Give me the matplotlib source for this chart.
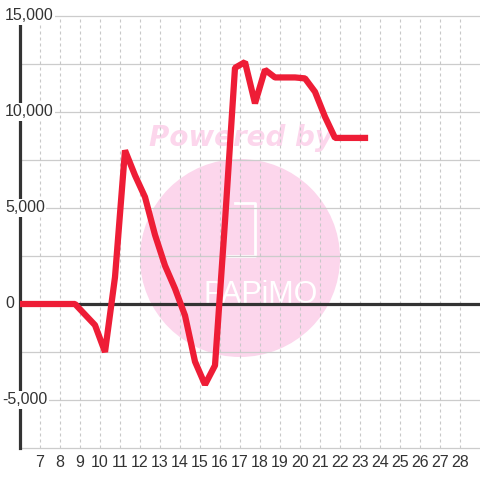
import matplotlib
matplotlib.use('Agg')
import matplotlib.pyplot as plt
from matplotlib.patches import Ellipse

# data
hours = [5.75, 6.25, 6.75, 7.25, 7.75, 8.25, 8.75, 9.25, 9.75, 10.25,
         10.75, 11.25, 11.75, 12.25, 12.75, 13.25, 13.75, 14.25, 14.75, 15.25,
         15.75, 16.25, 16.75, 17.25, 17.75, 18.25, 18.75, 19.25, 19.75, 20.25,
         20.75, 21.25, 21.75, 22.25, 22.75, 23.25]
values = [0, 0, 0, 0, 0, 0, 0, -550, -1100, -2500,
          1400, 8000, 6700, 5570, 3600, 2000, 800, -600, -3000, -4200,
          -3200, 4300, 12300, 12600, 10450, 12200, 11800, 11800, 11800, 11750,
          11050, 9750, 8650, 8650, 8650, 8650]
x_ticks = list(range(7, 29))
y_ticks = [15000, 10000, 5000, 0, -5000]
y_grid = [-7500, -5000, -2500, 2500, 5000, 7500, 10000, 12500, 15000]

plt.rcParams['font.family'] = ['Liberation Sans', 'DejaVu Sans']

fig = plt.figure(figsize=(4.8, 4.8), dpi=100)
fig.patch.set_facecolor('white')
ax = fig.add_axes([20/480, 32/480, 460/480, 432/480])
ax.set_xlim(6, 29)
ax.set_ylim(-7500, 15000)
for s in ax.spines.values():
    s.set_visible(False)

# watermark (behind the grid)
pink = '#fcd6ec'
ax.add_patch(Ellipse((220/460, 190/432), 200/460, 198/432, transform=ax.transAxes,
                     facecolor=pink, edgecolor='none', zorder=0.5))
ax.text(221/460, (448-146)/432, 'Powered by', transform=ax.transAxes, ha='center',
        va='baseline', color=pink, fontsize=20, family='DejaVu Sans',
        fontweight='bold', style='italic', zorder=0.6)
ax.text(241/460, (448-303)/432, 'PAPiMO', transform=ax.transAxes, ha='center',
        va='baseline', color='white', fontsize=22, fontweight='light', zorder=0.6)
bx = [(235-20)/460, (255-20)/460, (255-20)/460, (228-20)/460]
by = [(448-203)/432, (448-203)/432, (448-256)/432, (448-256)/432]
ax.plot(bx, by, color='white', lw=2, transform=ax.transAxes, zorder=0.6)

# grid
for v in y_grid:
    ax.axhline(v, color='#cccccc', lw=0.9, zorder=1, clip_on=False)
for i in x_ticks:
    ax.axvline(i, color='#c8c8c8', lw=0.8, ls=(0, (2.7, 2.7)), zorder=1)
ax.axhline(0, color='#333333', lw=2.3, zorder=2)
ax.axvline(6, color='#333333', lw=2.3, zorder=2, clip_on=False)

ax.plot(hours, values, color='#ee1d36', lw=4.5, zorder=3, solid_joinstyle='bevel')

ax.set_xticks(x_ticks)
ax.set_xticklabels([str(i) for i in x_ticks])
ax.set_yticks([])
ax.tick_params(axis='x', length=0, pad=5, labelsize=11.5, labelcolor='#333333')

# y labels sit on top of the axis with a white box
for v in y_ticks:
    xp = 2 if v < 0 else 5
    ax.text(6 + (xp - 20) / 20, v, format(v, ','), fontsize=11.5, color='#333333',
            ha='left', va='center', zorder=5, clip_on=False,
            bbox=dict(facecolor='white', edgecolor='none', pad=1.0))

fig.savefig('out.png', dpi=100)
